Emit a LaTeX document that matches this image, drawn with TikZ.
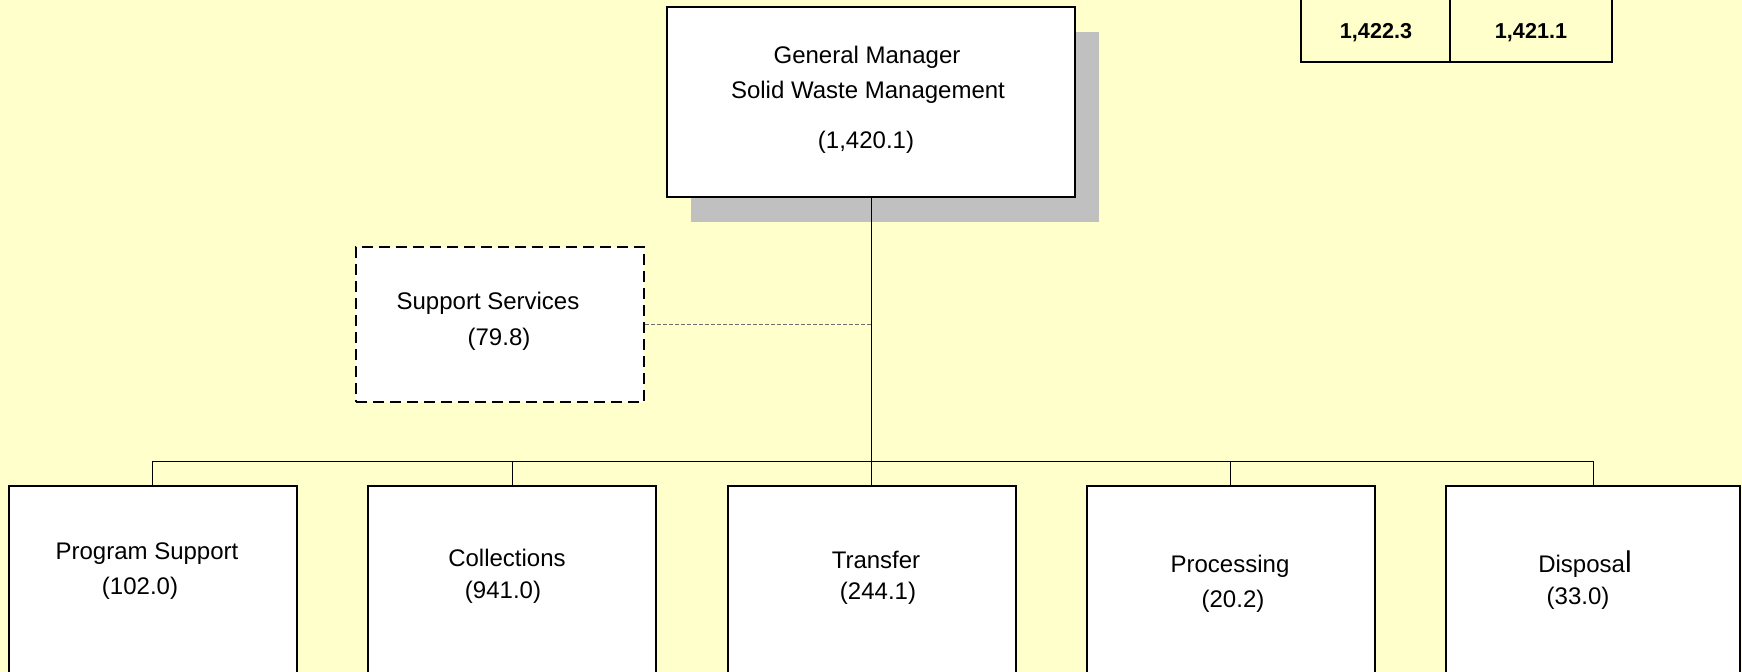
\documentclass[tikz,border=0pt]{standalone}
\usepackage{fontspec}
\setmainfont{Liberation Sans}
\usetikzlibrary{shadows}
\definecolor{bgyellow}{HTML}{FFFFCC}
\definecolor{shadowgray}{HTML}{C0C0C0}
\definecolor{dashgray}{HTML}{6E6E6E}
\begin{document}
\begin{tikzpicture}[x=0.5pt,y=-0.5pt,
  orgbox/.style={draw=black, line width=1pt, fill=white, inner sep=0pt,
    minimum width=144pt, minimum height=110pt},
  gmbox/.style={draw=black, line width=1pt, fill=white, inner sep=0pt,
    minimum width=204pt, minimum height=95pt,
    drop shadow={shadow xshift=12pt, shadow yshift=-12.5pt, fill=shadowgray, opacity=1}},
  ssbox/.style={draw=black, line width=1pt, fill=white, inner sep=0pt,
    dash pattern=on 5.5pt off 3pt, minimum width=144pt, minimum height=77.5pt},
  cell/.style={inner sep=0pt, minimum height=41pt},
  txt/.style={anchor=base, inner sep=0pt, font=\fontsize{12}{14}\selectfont},
  numtxt/.style={anchor=base, inner sep=0pt, font=\fontsize{10.8}{13}\selectfont\bfseries},
  conn/.style={draw=black, line width=0.5pt},
  dashconn/.style={draw=dashgray, line width=0.6pt, dash pattern=on 2pt off 1pt},
  tabline/.style={draw=black, line width=1pt}]
\useasboundingbox (0,0) rectangle (1742,672);
\clip (0,0) rectangle (1742,672);
\fill[bgyellow] (0,0) rectangle (1742,672);

% table top right
\node[cell, minimum width=74.5pt] (c1) at (1375.5,21) {};
\node[cell, minimum width=81pt] (c2) at (1531,21) {};
\draw[tabline] (c1.north west) -- (c1.south west) -- (c2.south east) -- (c2.north east);
\draw[tabline] (c1.north east) -- (c1.south east);
\node[numtxt] (v1) at (1376,39) {1,422.3};
\node[numtxt] (v2) at (1531,39) {1,421.1};

% general manager
\node[gmbox] (gm) at (871,102) {};
\node[txt] (gm1) at (867,64) {General Manager};
\node[txt] (gm2) at (868,99) {Solid Waste Management};
\node[txt] (gm3) at (866,149) {(1,420.1)};

% support services
\node[ssbox] (ss) at (500,324.5) {};
\node[txt] (ss1) at (488,310) {Support Services};
\node[txt] (ss2) at (499,346) {(79.8)};

% bottom boxes
\node[orgbox] (ps) at (152.5,596) {};
\node[orgbox] (co) at (512,596) {};
\node[orgbox] (tr) at (871.5,596) {};
\node[orgbox] (pr) at (1230.5,596) {};
\node[orgbox, minimum width=147pt] (dp) at (1593,596) {};

\node[txt] (ps1) at (147,560) {Program Support};
\node[txt] (ps2) at (140,595) {(102.0)};
\node[txt] (co1) at (507,567) {Collections};
\node[txt] (co2) at (503,599) {(941.0)};
\node[txt] (tr1) at (876,569) {Transfer};
\node[txt] (tr2) at (878,600) {(244.1)};
\node[txt] (pr1) at (1230,573) {Processing};
\node[txt] (pr2) at (1233,608) {(20.2)};
\node[txt] (dp1) at (1585,573) {Disposa{\fontsize{15}{18}\selectfont l}};
\node[txt] (dp2) at (1578,605) {(33.0)};

% connectors
\coordinate (bus) at (871,462);
\draw[conn] (gm.south) -- (gm.south |- tr.north);
\draw[conn] (ps.north) -- (ps.north |- bus) -| (dp.north);
\draw[conn] (co.north) -- (co.north |- bus);
\draw[conn] (pr.north) -- (pr.north |- bus);
\draw[dashconn] (ss.east) -- (ss.east -| gm.south);
\end{tikzpicture}
\end{document}
